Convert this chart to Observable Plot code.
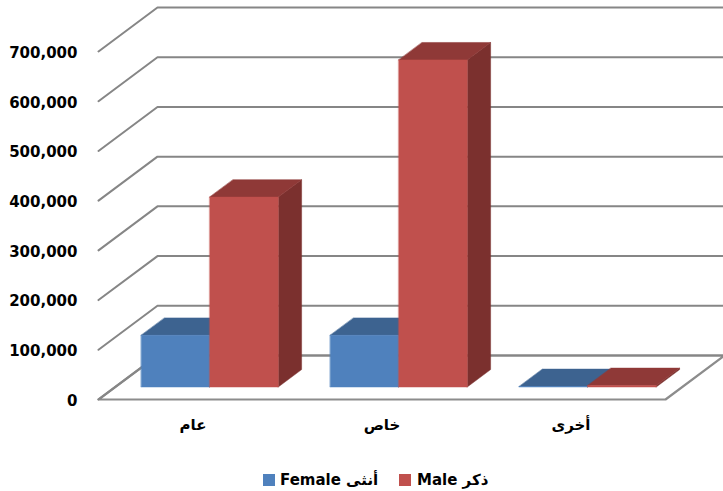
<!DOCTYPE html>
<html>
<head>
<meta charset="utf-8">
<script src="https://cdn.jsdelivr.net/npm/d3@7"></script>
<script src="https://cdn.jsdelivr.net/npm/@observablehq/plot@0.6"></script>
<style>
html,body{margin:0;padding:0;background:#fff}
svg{display:block}
#legend{position:relative;height:31px;font:bold 15px "DejaVu Sans",sans-serif;color:#000}
#legend span{position:absolute;white-space:nowrap;top:10px;line-height:20px;direction:ltr}
#legend i{position:absolute;top:14px;width:12px;height:12px}
</style>
</head>
<body>
<div id="chart"></div>
<div id="legend"></div>
<script>
const categories = ["عام", "خاص", "أخرى"];
const female = [104000, 104000, 1000];
const male = [382000, 658000, 3000];
const yTicks = [0, 100000, 200000, 300000, 400000, 500000, 600000, 700000];
const seriesNames = ["Female أنثى", "Male ذكر"];
const seriesFront = ["#4f81bd", "#c0504d"];
const seriesTop = ["#3d6390", "#8f3937"];
const seriesSide = ["#2f4f75", "#7b302e"];

// oblique projection of the 3D chart box, in data units
const depthX = 0.312, depthV = 88500;
const P = (x, v, d) => ({x: x + d * depthX, v: v + d * depthV});
const d0 = 0.284, d1 = 0.68, barW = 0.3625, gap = 0.1375;

const gridLines = [];
yTicks.forEach(t => {
  [[0, t, 0], [0, t, 1], [3, t, 1]].forEach(p => gridLines.push({...P(...p), id: t}));
});
const floor = [[0,0,0],[3,0,0],[3,0,1],[0,0,1]].map(p => P(...p));

const faces = [];
const addFace = (id, color, pts) => pts.forEach(p => faces.push({...P(...p), id, color}));
categories.forEach((c, i) => {
  [female[i], male[i]].forEach((val, s) => {
    const a = i + gap + s * barW, b = a + barW;
    addFace(`${i}-${s}-side`, seriesSide[s], [[b,0,d0],[b,0,d1],[b,val,d1],[b,val,d0]]);
    addFace(`${i}-${s}-top`, seriesTop[s], [[a,val,d0],[b,val,d0],[b,val,d1],[a,val,d1]]);
    addFace(`${i}-${s}-front`, seriesFront[s], [[a,0,d0],[b,0,d0],[b,val,d0],[a,val,d0]]);
  });
});

const labels = categories.map((c, i) => ({x: i + 0.5, v: 0, c}));

const plot = Plot.plot({
  width: 723, height: 460,
  marginLeft: 98, marginRight: 58, marginTop: 51, marginBottom: 61,
  x: {domain: [0, 3], axis: null},
  y: {domain: [0, 700000]},
  color: {type: "identity"},
  style: {fontFamily: '"DejaVu Sans",sans-serif', fontSize: "15px", fontWeight: "bold", color: "#000", background: "#fff", overflow: "visible"},
  marks: [
    Plot.line(floor, {x: "x", y: "v", curve: "linear-closed", stroke: "#8c8c8c", strokeWidth: 2.2, fill: "#fff"}),
    Plot.line(gridLines, {x: "x", y: "v", z: "id", stroke: "#868686", strokeWidth: 2, curve: "linear"}),
    Plot.line(faces, {x: "x", y: "v", z: "id", fill: "color", stroke: "color", strokeWidth: 0.5, curve: "linear-closed"}),
    Plot.axisY({ticks: yTicks, tickSize: 0, tickPadding: 21, label: null, dy: 1.5, tickFormat: d3.format(",")}),
    Plot.text(labels, {x: "x", y: "v", text: "c", dy: 26, fontSize: 15})
  ]
});
document.getElementById("chart").appendChild(plot);

const lg = document.getElementById("legend");
const swatchX = [263, 399], textX = [280, 417];
seriesNames.forEach((n, s) => {
  const sw = document.createElement("i");
  sw.style.left = swatchX[s] + "px";
  sw.style.background = seriesFront[s];
  lg.appendChild(sw);
  const t = document.createElement("span");
  t.style.left = textX[s] + "px";
  t.textContent = n;
  lg.appendChild(t);
});
</script>
</body>
</html>
